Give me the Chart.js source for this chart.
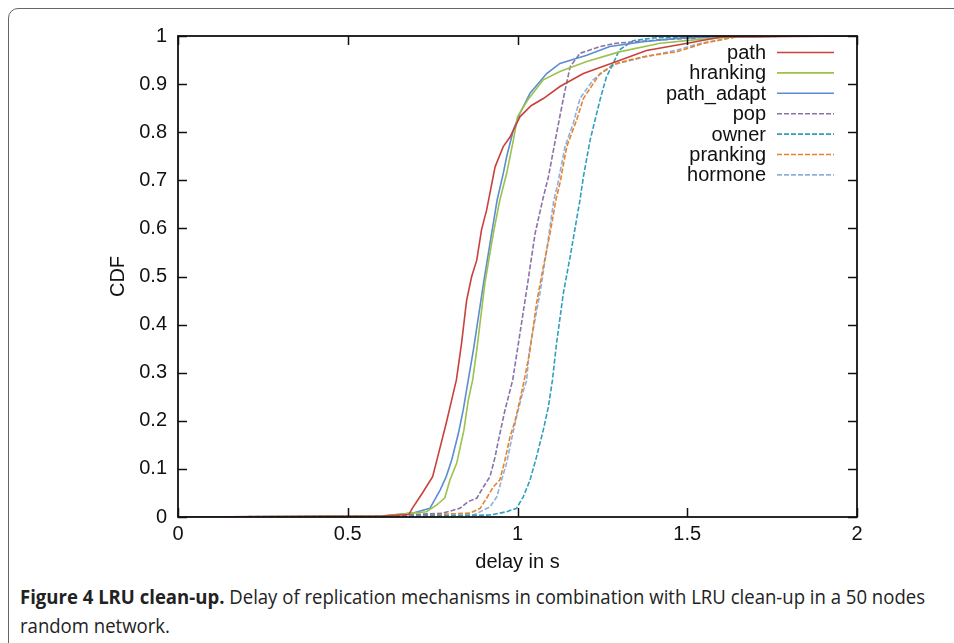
<!DOCTYPE html>
<html>
<head>
<meta charset="utf-8">
<script src="https://cdn.jsdelivr.net/npm/chart.js@4.4.1/dist/chart.umd.min.js"></script>
<style>
  body { margin: 0; background: #fff; width: 954px; height: 643px; overflow: hidden; position: relative; }
  #frame { position: absolute; left: 8px; top: 8px; width: 1000px; height: 700px; border: 1px solid #666; border-radius: 10px; }
  #wrap { position: absolute; left: 0; top: 0; width: 954px; height: 580px; }
  #caption { position: absolute; left: 20px; top: 582px; font-family: "Open Sans", sans-serif; font-size: 19.5px; line-height: 29px; color: #222; white-space: nowrap; transform-origin: 0 0; }
  #caption b { font-weight: 700; }
</style>
</head>
<body>
<div id="frame"></div>
<div id="wrap"><canvas id="myChart" width="954" height="580"></canvas></div>
<div id="caption"><span id="line1"><b>Figure 4 LRU clean-up.</b> Delay of replication mechanisms in combination with LRU clean-up in a 50 nodes</span><br>random network.</div>
<script>
// values (delay in s, CDF)
const pathX = [0, 0.6, 0.68, 0.69, 0.72, 0.75, 0.77, 0.79, 0.806, 0.82, 0.835, 0.85, 0.865, 0.88, 0.894, 0.909, 0.934, 0.958, 0.978, 1.007, 1.04, 1.076, 1.125, 1.194, 1.292, 1.38, 1.5, 1.6, 2];
const pathY = [0, 0.002, 0.005, 0.018, 0.05, 0.084, 0.139, 0.195, 0.243, 0.285, 0.36, 0.45, 0.5, 0.534, 0.597, 0.638, 0.728, 0.77, 0.79, 0.832, 0.855, 0.87, 0.895, 0.922, 0.947, 0.97, 0.985, 0.998, 1];

const hrankX = [0, 0.6, 0.69, 0.732, 0.762, 0.786, 0.801, 0.821, 0.842, 0.855, 0.868, 0.88, 0.904, 0.929, 0.948, 0.968, 0.988, 1.0, 1.03, 1.076, 1.125, 1.204, 1.3, 1.42, 1.52, 1.65, 2];
const hrankY = [0, 0.002, 0.008, 0.011, 0.025, 0.04, 0.077, 0.112, 0.18, 0.243, 0.285, 0.347, 0.486, 0.59, 0.659, 0.714, 0.784, 0.832, 0.867, 0.909, 0.926, 0.947, 0.967, 0.985, 0.992, 0.999, 1];

const adaptX = [0, 0.6, 0.69, 0.742, 0.772, 0.79, 0.806, 0.826, 0.84, 0.855, 0.87, 0.9, 0.919, 0.94, 0.958, 0.968, 0.988, 1.007, 1.022, 1.037, 1.086, 1.125, 1.204, 1.272, 1.37, 1.47, 1.6, 2];
const adaptY = [0, 0.002, 0.008, 0.018, 0.056, 0.084, 0.118, 0.174, 0.222, 0.285, 0.347, 0.486, 0.569, 0.659, 0.714, 0.749, 0.805, 0.839, 0.86, 0.881, 0.922, 0.943, 0.96, 0.978, 0.988, 0.995, 0.999, 1];

const popX = [0, 0.6, 0.78, 0.83, 0.855, 0.88, 0.9, 0.919, 0.934, 0.944, 0.963, 0.986, 0.998, 1.027, 1.052, 1.074, 1.091, 1.115, 1.135, 1.155, 1.184, 1.243, 1.29, 1.42, 1.6, 2];
const popY = [0, 0.002, 0.008, 0.018, 0.032, 0.039, 0.063, 0.084, 0.125, 0.16, 0.222, 0.285, 0.34, 0.472, 0.59, 0.659, 0.707, 0.797, 0.87, 0.936, 0.964, 0.978, 0.985, 0.992, 0.999, 1];

const ownerX = [0, 0.6, 0.919, 0.968, 0.997, 1.017, 1.037, 1.056, 1.076, 1.091, 1.103, 1.115, 1.135, 1.155, 1.184, 1.194, 1.214, 1.243, 1.262, 1.282, 1.3, 1.34, 1.4, 1.6, 2];
const ownerY = [0, 0.001, 0.004, 0.011, 0.018, 0.042, 0.077, 0.125, 0.181, 0.229, 0.285, 0.361, 0.465, 0.541, 0.659, 0.707, 0.784, 0.867, 0.915, 0.943, 0.971, 0.99, 0.996, 0.999, 1];

const prankX = [0, 0.6, 0.86, 0.89, 0.909, 0.929, 0.948, 0.963, 0.978, 0.993, 1.007, 1.02, 1.037, 1.056, 1.076, 1.096, 1.113, 1.125, 1.145, 1.174, 1.194, 1.243, 1.292, 1.37, 1.468, 1.55, 1.65, 2];
const prankY = [0, 0.001, 0.008, 0.018, 0.039, 0.063, 0.077, 0.118, 0.167, 0.2, 0.243, 0.285, 0.347, 0.444, 0.52, 0.59, 0.659, 0.694, 0.77, 0.825, 0.87, 0.922, 0.943, 0.957, 0.967, 0.985, 0.999, 1];

const hormX = [0, 0.6, 0.87, 0.919, 0.939, 0.953, 0.968, 0.982, 0.997, 1.012, 1.027, 1.035, 1.066, 1.086, 1.107, 1.117, 1.14, 1.164, 1.184, 1.223, 1.28, 1.36, 1.47, 1.54, 1.65, 2];
const hormY = [0, 0.001, 0.004, 0.021, 0.042, 0.077, 0.112, 0.16, 0.208, 0.25, 0.285, 0.347, 0.465, 0.555, 0.659, 0.687, 0.77, 0.818, 0.87, 0.909, 0.94, 0.954, 0.971, 0.985, 0.999, 1];

const seriesNames = ["path", "hranking", "path_adapt", "pop", "owner", "pranking", "hormone"];
const seriesColors = ["#c9413c", "#9cc24a", "#5b8dd3", "#8a73a6", "#2ea0bd", "#e6842e", "#8fb0df"];
const seriesDashed = [false, false, false, true, true, true, true];
const seriesX = [pathX, hrankX, adaptX, popX, ownerX, prankX, hormX];
const seriesY = [pathY, hrankY, adaptY, popY, ownerY, prankY, hormY];

const fontFamily = "'Liberation Sans', Arial, sans-serif";
const tickFont = { family: fontFamily, size: 20 };

function toPoints(xs, ys){
    let pts = [];
    let i = -1;
    while(++i < xs.length){
        pts.push({x: xs[i], y: ys[i]});
    }
    return pts;
}

let datasets = [];
seriesNames.forEach((name, i) => {
    datasets.push({
        label: name,
        data: toPoints(seriesX[i], seriesY[i]),
        borderColor: seriesColors[i],
        borderWidth: 1.6,
        borderDash: seriesDashed[i] ? [5, 2] : [],
        pointRadius: 0,
        showLine: true,
        tension: 0,
        fill: false
    });
});

// box + inward ticks like gnuplot
const frameTicks = {
    id: 'frameTicks',
    afterDatasetsDraw(chart){
        const ctx = chart.ctx;
        const a = chart.chartArea;
        const xs = chart.scales.x, ys = chart.scales.y;
        const len = 9;
        ctx.save();
        ctx.strokeStyle = '#111';
        ctx.lineWidth = 1.5;
        ctx.beginPath();
        xs.ticks.forEach(t => {
            const px = Math.round(xs.getPixelForValue(t.value)) + 0.5;
            ctx.moveTo(px, a.bottom); ctx.lineTo(px, a.bottom - len);
            ctx.moveTo(px, a.top); ctx.lineTo(px, a.top + len);
        });
        ys.ticks.forEach(t => {
            const py = Math.round(ys.getPixelForValue(t.value)) + 0.5;
            ctx.moveTo(a.left, py); ctx.lineTo(a.left + len, py);
            ctx.moveTo(a.right, py); ctx.lineTo(a.right - len, py);
        });
        ctx.stroke();
        ctx.lineWidth = 1.8;
        ctx.strokeRect(a.left, a.top, a.right - a.left, a.bottom - a.top);
        ctx.restore();
    }
};

// right aligned legend with sample on the right, inside the plot
const keyBox = {
    id: 'keyBox',
    afterDraw(chart){
        const ctx = chart.ctx;
        ctx.save();
        ctx.font = "20px " + fontFamily;
        ctx.textAlign = 'right';
        ctx.textBaseline = 'middle';
        chart.data.datasets.forEach((ds, i) => {
            const y = 52.5 + i * 20.4;
            ctx.fillStyle = '#111';
            ctx.fillText(ds.label, 766, y + 1);
            ctx.strokeStyle = ds.borderColor;
            ctx.lineWidth = 1.6;
            ctx.setLineDash(ds.borderDash);
            ctx.beginPath();
            ctx.moveTo(777, y); ctx.lineTo(834, y);
            ctx.stroke();
        });
        ctx.restore();
    }
};

const fmt = v => String(Number(v.toFixed(2)));

new Chart(document.getElementById('myChart'), {
    type: 'scatter',
    data: { datasets: datasets },
    options: {
        responsive: false,
        animation: false,
        layout: { padding: { left: 0, top: 36, right: 97, bottom: 0 } },
        plugins: { legend: { display: false }, tooltip: { enabled: false } },
        scales: {
            x: {
                type: 'linear', min: 0, max: 2,
                ticks: { stepSize: 0.5, color: '#111', font: tickFont, padding: 5, maxRotation: 0, callback: fmt },
                grid: { display: false, drawTicks: false },
                border: { display: false },
                title: { display: true, text: 'delay in s', color: '#111', font: tickFont, padding: { top: 0, bottom: 6 } },
                afterFit(scale){ scale.height = 63; }
            },
            y: {
                type: 'linear', min: 0, max: 1,
                ticks: { stepSize: 0.1, color: '#111', font: tickFont, padding: 11, callback: fmt },
                grid: { display: false, drawTicks: false },
                border: { display: false },
                title: { display: true, text: 'CDF', color: '#111', font: tickFont, padding: { top: 106, bottom: 0 } },
                afterFit(scale){ scale.width = 178; }
            }
        }
    },
    plugins: [frameTicks, keyBox]
});

// fit the caption line to the width it has in the figure
const line1 = document.getElementById('line1');
const cap = document.getElementById('caption');
const w = line1.getBoundingClientRect().width;
cap.style.transform = 'scaleX(' + (905 / w).toFixed(4) + ')';
</script>
</body>
</html>
